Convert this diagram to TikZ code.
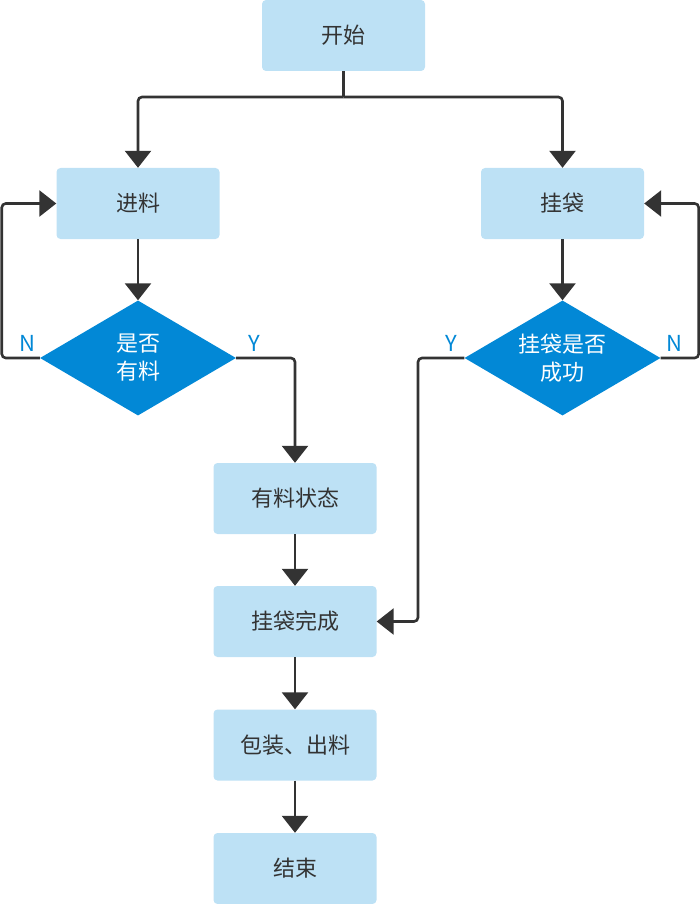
\documentclass[tikz,border=0pt]{standalone}
\usepackage{fontspec}
\setmainfont{Noto Sans CJK SC}
\usepackage{tikz}
\usetikzlibrary{shapes.geometric,arrows.meta,positioning,calc}
\definecolor{boxfill}{HTML}{BDE1F5}
\definecolor{decfill}{HTML}{0288D6}
\definecolor{ink}{HTML}{333333}

\begin{document}
\begin{tikzpicture}[x=1pt, y=-1pt,
  stepbox/.style={rectangle, rounded corners=4pt, fill=boxfill, text=ink, minimum width=163pt, minimum height=71pt, align=center, font=\fontsize{22}{28}\selectfont},
  decbox/.style={diamond, fill=decfill, text=white, inner sep=-12pt, minimum width=196pt, minimum height=115pt, align=center, font=\fontsize{22}{28}\selectfont},
  flow/.style={draw=ink, line width=2.6pt, rounded corners=4pt, -{Triangle[width=26pt,length=17pt]}},
  yn/.style={text=decfill, font=\fontsize{22}{24}\selectfont}
]
\useasboundingbox (0,0) rectangle (700,904);

\node[stepbox] (start) at (343.5,35.5) {开始};
\node[stepbox] (feed) at (138,203.5) {进料};
\node[stepbox] (bag) at (562.5,203.5) {挂袋};
\node[decbox] (hasmat) at (138,358) {是否\\有料};
\node[decbox] (bagok) at (562.5,358) {挂袋是否\\成功};
\node[stepbox] (matstate) at (295,498.5) {有料状态};
\node[stepbox] (bagdone) at (295,621.5) {挂袋完成};
\node[stepbox] (pack) at (295,745) {包装、出料};
\node[stepbox] (stop) at (295,868.5) {结束};

\coordinate (split) at (343.5,97);

\draw[flow, -] (start.south) -- (split);
\draw[flow] (split) -| (feed.north);
\draw[flow] (split) -| (bag.north);
\draw[flow] (feed) -- (hasmat);
\draw[flow] (bag) -- (bagok);

\draw[flow] (hasmat.west) -- ++(-38,0) |- (feed.west);
\draw[flow] (hasmat.east) -| (matstate.north);
\draw[flow] (bagok.west) -- (418,358) |- (bagdone.east);
\draw[flow] (bagok.east) -- ++(38,0) |- (bag.east);

\draw[flow] (matstate) -- (bagdone);
\draw[flow] (bagdone) -- (pack);
\draw[flow] (pack) -- (stop);

\node[yn] (n1) at (27,343) {N};
\node[yn] (y1) at (254,343) {Y};
\node[yn] (y2) at (451,343) {Y};
\node[yn] (n2) at (674,343) {N};
\end{tikzpicture}
\end{document}
